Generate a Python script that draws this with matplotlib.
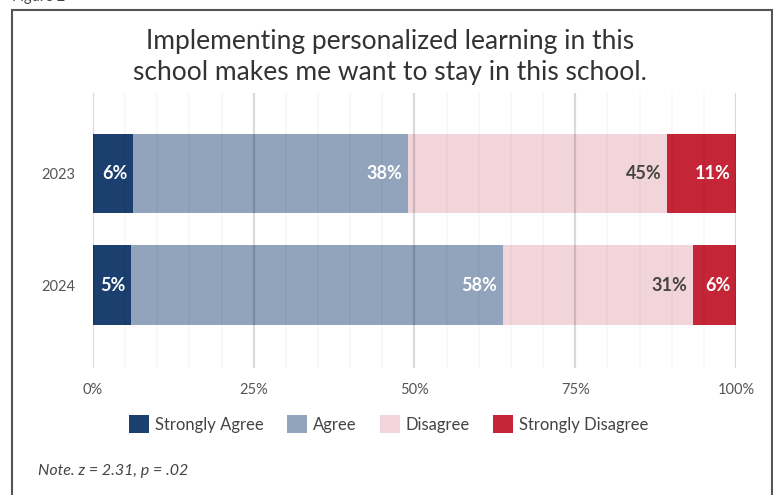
import numpy as np
import matplotlib.pyplot as plt
from matplotlib.patches import Rectangle, Patch

plt.rcParams['font.family'] = ['Lato', 'DejaVu Sans']

# データ
years = ['2023', '2024']
categories = ['Strongly Agree', 'Agree', 'Disagree', 'Strongly Disagree']
strongly_agree = [6.2, 5.9]
agree = [42.8, 57.8]
disagree = [40.3, 29.6]
strongly_disagree = [10.7, 6.7]
# 棒の上に表示されているラベル
label_texts = [
    ['6%', '5%'],
    ['38%', '58%'],
    ['45%', '31%'],
    ['11%', '6%'],
]
x_ticks = [0, 25, 50, 75, 100]
x_tick_labels = ['0%', '25%', '50%', '75%', '100%']

colors = ['#1b3f6e', '#92a4bb', '#f2d5da', '#c42638']
text_colors = ['white', 'white', '#444444', 'white']

fig = plt.figure(figsize=(7.73, 4.95), dpi=100)
ax = fig.add_axes([0.1203, 0.2566, 0.8318, 0.5555])

series = [strongly_agree, agree, disagree, strongly_disagree]
y = np.arange(len(years))
left = np.zeros(len(years))
for vals, col, tcol, labs in zip(series, colors, text_colors, label_texts):
    vals = np.array(vals)
    ax.barh(y, vals, left=left, height=0.714, color=col, zorder=1)
    for yi, (l, v, t) in enumerate(zip(left, vals, labs)):
        ax.annotate(t, (l + v, yi), xytext=(-4, 0), textcoords='offset points',
                    ha='right', va='center', color=tcol, fontsize=13,
                    fontweight='bold', zorder=3)
    left = left + vals

# 目盛りとグリッド
ax.set_xlim(0, 100)
ax.set_ylim(1.74, -0.72)
ax.set_xticks(x_ticks)
ax.set_xticklabels(x_tick_labels)
ax.set_xticks(np.arange(0, 101, 5), minor=True)
ax.set_yticks(y)
ax.set_yticklabels(years)
ax.grid(axis='x', which='major', color='#000000', alpha=0.15, linewidth=1.6, zorder=2)
ax.grid(axis='x', which='minor', color='#000000', alpha=0.03, linewidth=1.2, zorder=2)
ax.set_axisbelow(False)
ax.tick_params(axis='both', which='both', length=0, colors='#555555', labelsize=10.5)
ax.tick_params(axis='x', pad=11)
ax.tick_params(axis='y', pad=13)
for s in ax.spines.values():
    s.set_visible(False)

# タイトル
fig.text(0.505, 1 - 57 / 495, 'Implementing personalized learning in this\nschool makes me want to stay in this school.',
         ha='center', va='center', fontsize=19, color='#333333', linespacing=1.3)

# 凡例
handles = [Patch(facecolor=c, edgecolor='none') for c in colors]
fig.legend(handles, categories, loc='center', bbox_to_anchor=(0.503, 1 - 424 / 495),
           ncol=4, frameon=False, fontsize=12, handlelength=1.2, handleheight=1.2,
           handletextpad=0.35, columnspacing=1.4, labelcolor='#444444')

# 注記
fig.text(38 / 773, 1 - 471 / 495, 'Note. z = 2.31, p = .02', fontsize=11.5,
         style='italic', color='#444444', va='center')

# 図番号と枠
fig.text(12 / 773, 1 - 4 / 495, 'Figure 2', fontsize=10.5, color='#444444', va='bottom')
fig.patches.append(Rectangle((12 / 773, -0.05), 760 / 773, 1.05 - 10 / 495,
                             transform=fig.transFigure, fill=False,
                             edgecolor='#555555', linewidth=1.5))

fig.savefig('out.png', dpi=100)
